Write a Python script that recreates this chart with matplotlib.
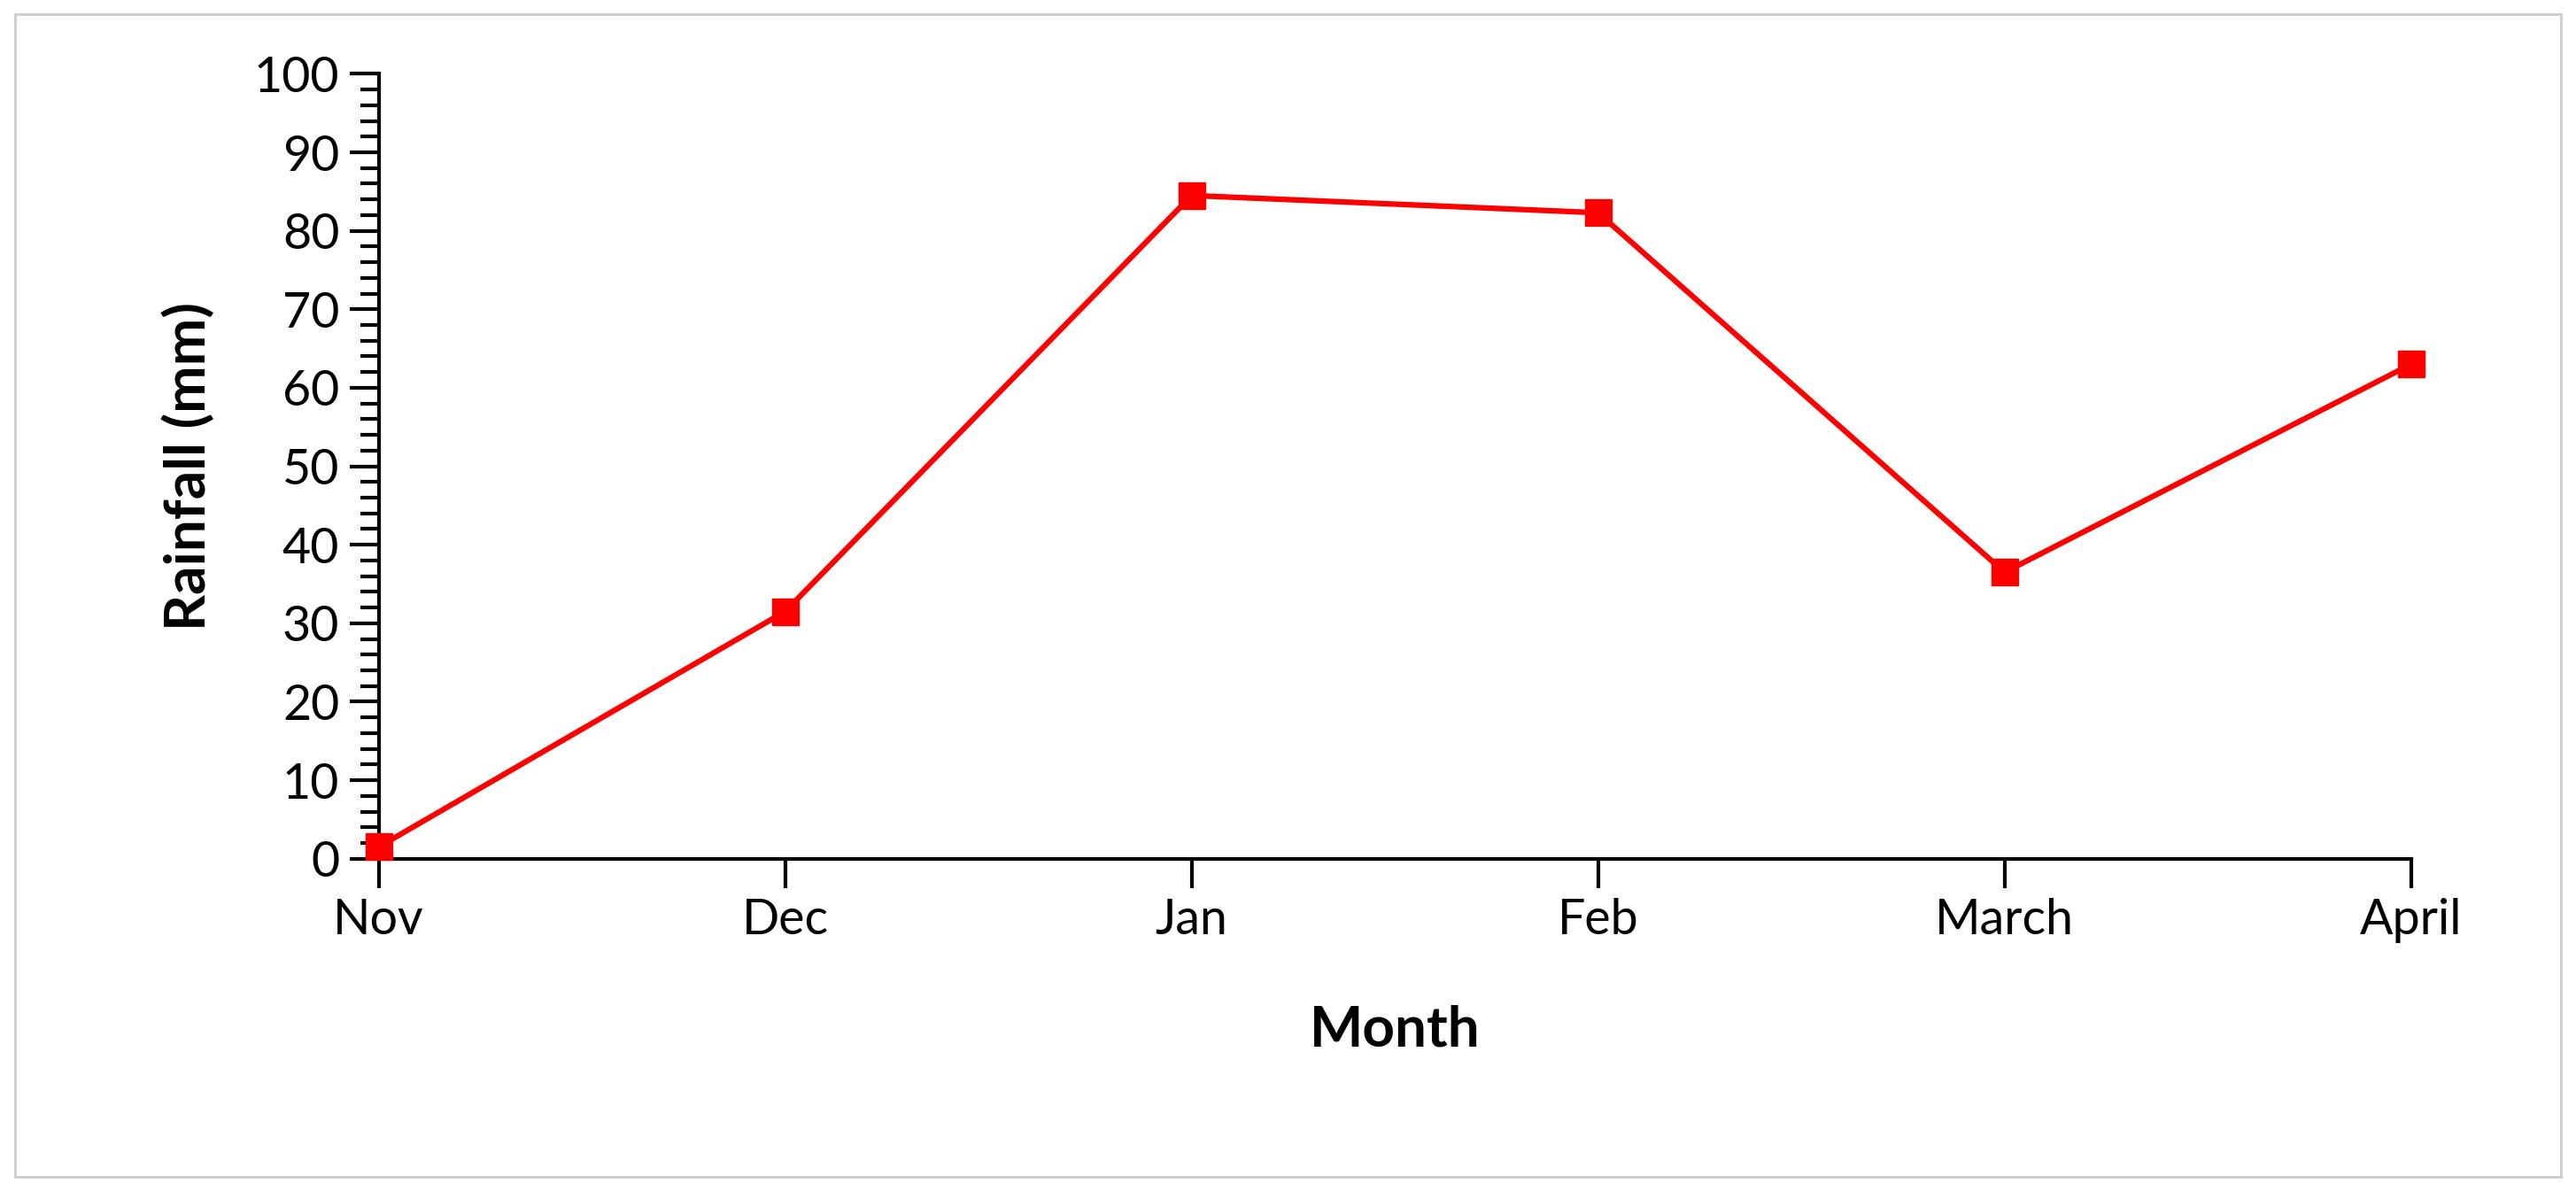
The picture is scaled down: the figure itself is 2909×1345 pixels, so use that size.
import matplotlib.pyplot as plt
from matplotlib.patches import Rectangle
from matplotlib.ticker import MultipleLocator

months = ['Nov', 'Dec', 'Jan', 'Feb', 'March', 'April']
rainfall = [1.5, 31.5, 84.5, 82.3, 36.5, 63.0]

plt.rcParams['font.family'] = ['Lato', 'DejaVu Sans']

fig = plt.figure(figsize=(29.09, 13.45), dpi=100)
fig.patches.append(Rectangle((0.006, 0.012), 0.988, 0.976, transform=fig.transFigure,
                             fill=False, edgecolor='#cccccc', linewidth=2))
ax = fig.add_axes([0.147, 0.279, 0.789, 0.659])

x = list(range(len(months)))
ax.plot(x, rainfall, color='#ff0000', linewidth=4.5, marker='s', markersize=22,
        clip_on=False, zorder=3)

ax.set_xlim(0, len(months) - 1)
ax.set_ylim(0, 100)
ax.set_xticks(x)
ax.set_xticklabels(months)
ax.yaxis.set_major_locator(MultipleLocator(10))
ax.yaxis.set_minor_locator(MultipleLocator(2))

for side in ['top', 'right']:
    ax.spines[side].set_visible(False)
for side in ['left', 'bottom']:
    ax.spines[side].set_linewidth(3)

ax.tick_params(axis='both', which='major', direction='out', length=24, width=3,
               labelsize=40, pad=8)
ax.tick_params(axis='y', which='minor', direction='out', length=15, width=3)

ax.set_xlabel('Month', fontsize=46, fontweight='bold', labelpad=50)
ax.set_ylabel('Rainfall (mm)', fontsize=46, fontweight='bold', labelpad=32)

fig.savefig('out.png', dpi=100)
